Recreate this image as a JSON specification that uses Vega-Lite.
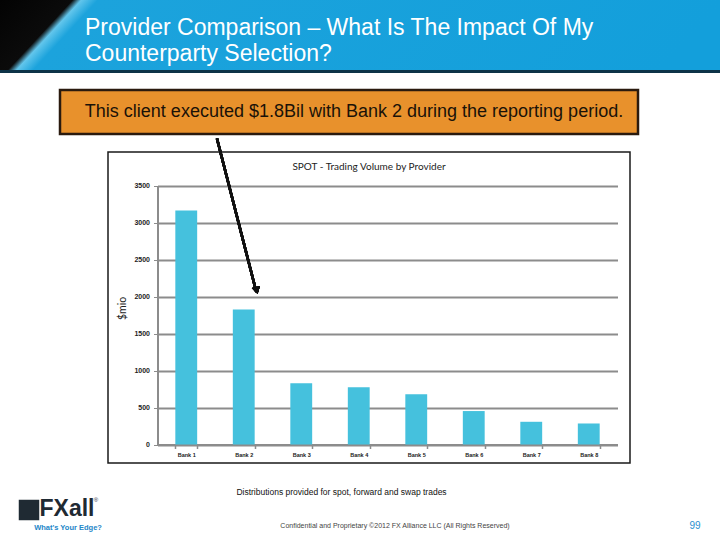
{
  "$schema": "https://vega.github.io/schema/vega-lite/v6.json",
  "background": "white",
  "padding": 0,
  "spacing": 0,
  "bounds": "full",
  "config": {"view": {"stroke": null}, "font": "Liberation Sans"},
  "vconcat": [
    {
      "width": 720,
      "height": 70,
      "data": {"values": [{"part": "header"}]},
      "title": {
        "text": ["Provider Comparison – What Is The Impact Of My", "Counterparty Selection?"],
        "anchor": "start",
        "frame": "group",
        "dx": 85,
        "offset": -66,
        "color": "white",
        "fontSize": 23,
        "fontWeight": "normal",
        "font": "Liberation Sans",
        "lineHeight": 26
      },
      "mark": {
        "type": "rect",
        "color": {
          "gradient": "linear",
          "x1": 0, "y1": 0, "x2": 1, "y2": 0.09,
          "stops": [
            {"offset": 0, "color": "#030303"},
            {"offset": 0.1, "color": "#0b0b0b"},
            {"offset": 0.112, "color": "#62c6ec"},
            {"offset": 0.135, "color": "#1ca3dc"},
            {"offset": 1, "color": "#139fdb"}
          ]
        }
      }
    },
    {
      "width": 720,
      "height": 3,
      "data": {"values": [{"part": "line"}]},
      "mark": {"type": "rect", "color": "#0d3347"}
    },
    {
      "width": 720,
      "height": 14.5,
      "data": {"values": [{"part": "gap"}]},
      "mark": {"type": "rect", "opacity": 0}
    },
    {
      "hconcat": [
        {"width": 60, "height": 44, "data": {"values": [{"part": "gap"}]}, "mark": {"type": "rect", "opacity": 0}},
        {
          "width": 578,
          "height": 44,
          "view": {"fill": "#e8912c", "stroke": "#2a1a0e", "strokeWidth": 2.5},
          "data": {"values": [{"note": "This client executed $1.8Bil with Bank 2 during the reporting period."}]},
          "mark": {"type": "text", "fontSize": 18, "font": "Liberation Sans", "color": "#1a1208", "baseline": "middle", "align": "center", "dx": 5},
          "encoding": {"text": {"field": "note"}}
        },
        {"width": 82, "height": 44, "data": {"values": [{"part": "gap"}]}, "mark": {"type": "rect", "opacity": 0}}
      ],
      "spacing": 0,
      "bounds": "flush"
    },
    {
      "hconcat": [
        {"width": 108, "height": 311, "data": {"values": [{"part": "gap"}]}, "mark": {"type": "rect", "opacity": 0}},
        {
          "width": 522,
          "height": 311,
          "view": {"stroke": "#1a1a1a", "strokeWidth": 1.5, "fill": "white"},
          "title": {
            "text": "SPOT - Trading Volume by Provider",
            "frame": "group",
            "anchor": "middle",
            "offset": -34.5,
            "fontSize": 10,
            "font": "Lato",
            "fontWeight": "normal",
            "color": "#222"
          },
          "data": {
            "values": [
              {"bank": "Bank 1", "volume": 3162},
              {"bank": "Bank 2", "volume": 1824},
              {"bank": "Bank 3", "volume": 828},
              {"bank": "Bank 4", "volume": 774},
              {"bank": "Bank 5", "volume": 680},
              {"bank": "Bank 6", "volume": 452},
              {"bank": "Bank 7", "volume": 307},
              {"bank": "Bank 8", "volume": 284}
            ]
          },
          "layer": [
            {
              "mark": {"type": "bar", "color": "#45c1dd"},
              "encoding": {
                "x": {
                  "field": "bank",
                  "type": "nominal",
                  "sort": null,
                  "scale": {"range": [49.5, 509.5], "paddingInner": 0.62, "paddingOuter": 0.31},
                  "axis": {
                    "title": null,
                    "labelAngle": 0,
                    "offset": -18.5,
                    "tickBand": "extent",
                    "domainColor": "#8c8c8c",
                    "domainWidth": 2,
                    "tickColor": "#8c8c8c",
                    "tickWidth": 1.5,
                    "tickSize": 4,
                    "labelFontSize": 5.5,
                    "labelFont": "Liberation Sans",
                    "labelFontWeight": "bold",
                    "labelColor": "#222",
                    "labelPadding": 4
                  }
                },
                "y": {
                  "field": "volume",
                  "type": "quantitative",
                  "scale": {"domain": [0, 3500], "range": [292.5, 33.5], "nice": false},
                  "axis": {
                    "title": "$mio",
                    "values": [0, 500, 1000, 1500, 2000, 2500, 3000, 3500],
                    "format": "d",
                    "offset": -49.5,
                    "grid": true,
                    "gridColor": "#8c8c8c",
                    "gridWidth": 2,
                    "domainColor": "#8c8c8c",
                    "domainWidth": 2,
                    "tickColor": "#8c8c8c",
                    "tickSize": 4,
                    "labelFontSize": 7,
                    "labelFontWeight": "bold",
                    "labelPadding": 4,
                    "labelColor": "#222",
                    "titleFontSize": 10.5,
                    "titleFont": "Lato",
                    "titleFontWeight": "normal",
                    "titleColor": "#222",
                    "titlePadding": 6,
                    "titleY": 156
                  }
                }
              }
            },
            {
              "mark": {"type": "rule", "color": "#111", "strokeWidth": 2.5, "xOffset": -26.8, "x2Offset": 12.6},
              "encoding": {
                "x": {"datum": "Bank 2"},
                "x2": {"datum": "Bank 2"},
                "y": {"datum": 4135},
                "y2": {"datum": 2060}
              }
            },
            {
              "mark": {"type": "point", "shape": "triangle-down", "filled": true, "color": "#111", "opacity": 1, "size": 70, "angle": 346, "xOffset": 13},
              "encoding": {
                "x": {"datum": "Bank 2"},
                "y": {"datum": 2080}
              }
            }
          ]
        },
        {"width": 90, "height": 311, "data": {"values": [{"part": "gap"}]}, "mark": {"type": "rect", "opacity": 0}}
      ],
      "spacing": 0,
      "bounds": "flush"
    },
    {
      "width": 720,
      "height": 78,
      "layer": [
        {
          "data": {"values": [{"t": "Distributions provided for spot, forward and swap trades"}]},
          "mark": {"type": "text", "fontSize": 8.5, "color": "#111", "dx": -18.5, "dy": -11},
          "encoding": {"text": {"field": "t"}}
        },
        {
          "data": {"values": [{"t": "Confidential and Proprietary ©2012 FX Alliance LLC (All Rights Reserved)"}]},
          "mark": {"type": "text", "fontSize": 7, "color": "#444", "dx": 35, "dy": 23},
          "encoding": {"text": {"field": "t"}}
        },
        {
          "data": {"values": [{"t": "99"}]},
          "mark": {"type": "text", "fontSize": 10, "color": "#2a8fd0", "dx": 335, "dy": 23},
          "encoding": {"text": {"field": "t"}}
        },
        {
          "data": {"values": [{"t": "icon"}]},
          "mark": {"type": "point", "shape": "square", "filled": true, "size": 420, "color": "#1f2a33", "opacity": 1, "xOffset": -331, "yOffset": 7}
        },
        {
          "data": {"values": [{"t": "FXall"}]},
          "mark": {"type": "text", "fontSize": 23, "fontWeight": "bold", "color": "#1f2a33", "dx": -293, "dy": 6},
          "encoding": {"text": {"field": "t"}}
        },
        {
          "data": {"values": [{"t": "®"}]},
          "mark": {"type": "text", "fontSize": 6, "color": "#1f2a33", "dx": -264, "dy": -3},
          "encoding": {"text": {"field": "t"}}
        },
        {
          "data": {"values": [{"t": "What's Your Edge?"}]},
          "mark": {"type": "text", "fontSize": 7.5, "fontWeight": "bold", "color": "#2286c8", "dx": -292, "dy": 25},
          "encoding": {"text": {"field": "t"}}
        }
      ]
    }
  ]
}
